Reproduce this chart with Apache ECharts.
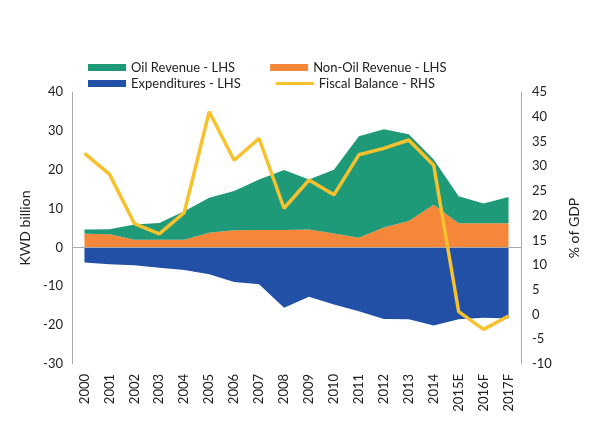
<!DOCTYPE html>
<html><head><meta charset="utf-8">
<script src="https://cdn.jsdelivr.net/npm/echarts@6/dist/echarts.min.js"></script>
<style>html,body{margin:0;padding:0;background:#fff}#c{width:589px;height:421px}</style>
</head><body><div id="c"></div>
<script>
const years = ['2000','2001','2002','2003','2004','2005','2006','2007','2008','2009','2010','2011','2012','2013','2014','2015E','2016F','2017F'];
const nonOilRevenue = [3.5,3.4,2.0,2.0,2.0,3.8,4.4,4.5,4.5,4.6,3.6,2.5,5.1,6.8,11.0,6.2,6.2,6.2];
const oilRevenue = [1.1,1.3,3.9,4.3,7.3,9.0,10.1,13.0,15.4,12.9,16.4,26.1,25.3,22.3,11.6,7.0,5.1,6.8];
const expenditures = [-3.9,-4.3,-4.6,-5.2,-5.8,-6.9,-8.9,-9.5,-15.5,-12.7,-14.7,-16.4,-18.4,-18.5,-20.1,-18.5,-18.1,-18.3];
const fiscalBalance = [32.6,28.4,18.4,16.3,20.6,41.0,31.2,35.6,21.5,27.2,24.2,32.3,33.6,35.3,30.2,0.6,-3.0,-0.3];

const C_OIL='#1e9a78', C_NON='#f5873a', C_EXP='#2150a6', C_FB='#f6c12c';
const FONT='Lato';
const chart = echarts.init(document.getElementById('c'));
const legendText = {fontFamily:FONT,fontSize:13,color:'#222'};
chart.setOption({
  animation:false,
  textStyle:{fontFamily:FONT},
  legend:[
    {left:83, top:56, itemWidth:38, itemHeight:7, itemGap:35, textStyle:legendText,
     data:[{name:'Oil Revenue - LHS',icon:'rect'},{name:'Non-Oil Revenue - LHS',icon:'rect'}]},
    {left:83, top:72, itemWidth:38, itemHeight:7, itemGap:35, textStyle:legendText,
     data:[{name:'Expenditures - LHS',icon:'rect'},{name:'Fiscal Balance - RHS',icon:'path://M0,0 L38,0 L38,3 L0,3 Z'}]}
  ],
  grid:{left:72,right:60,top:92,bottom:57},
  xAxis:{type:'category',data:years,boundaryGap:true,
    axisLine:{show:false,onZero:false},axisTick:{show:false},
    axisLabel:{rotate:90,fontSize:13,color:'#222',margin:10,fontFamily:FONT}},
  yAxis:[
    {type:'value',min:-30,max:40,interval:10,name:'KWD billion',nameLocation:'middle',nameGap:30,nameRotate:90,
     nameTextStyle:{fontSize:14,color:'#222',fontFamily:FONT},
     axisLine:{show:true,lineStyle:{color:'#aaa'}},axisTick:{show:false},splitLine:{show:false},
     axisLabel:{fontSize:13,color:'#222',margin:9}},
    {type:'value',min:-10,max:45,interval:5,name:'% of GDP',nameLocation:'middle',nameGap:46,nameRotate:90,
     nameTextStyle:{fontSize:14,color:'#222',fontFamily:FONT},
     axisLine:{show:true,lineStyle:{color:'#aaa'}},axisTick:{show:false},splitLine:{show:false},
     axisLabel:{fontSize:13,color:'#222',margin:11}}
  ],
  series:[
    {name:'Non-Oil Revenue - LHS',type:'line',stack:'rev',data:nonOilRevenue,symbol:'none',
     lineStyle:{width:0},areaStyle:{color:C_NON,opacity:1},itemStyle:{color:C_NON},
     markLine:{silent:true,symbol:'none',label:{show:false},lineStyle:{color:'#aaa',type:'solid',width:1},data:[{yAxis:0}]}},
    {name:'Oil Revenue - LHS',type:'line',stack:'rev',data:oilRevenue,symbol:'none',
     lineStyle:{width:0},areaStyle:{color:C_OIL,opacity:1},itemStyle:{color:C_OIL}},
    {name:'Expenditures - LHS',type:'line',data:expenditures,symbol:'none',
     lineStyle:{width:0},areaStyle:{color:C_EXP,opacity:1},itemStyle:{color:C_EXP}},
    {name:'Fiscal Balance - RHS',type:'line',yAxisIndex:1,data:fiscalBalance,symbol:'none',z:5,
     lineStyle:{width:3.5,color:C_FB},itemStyle:{color:C_FB}}
  ]
});
</script></body></html>
